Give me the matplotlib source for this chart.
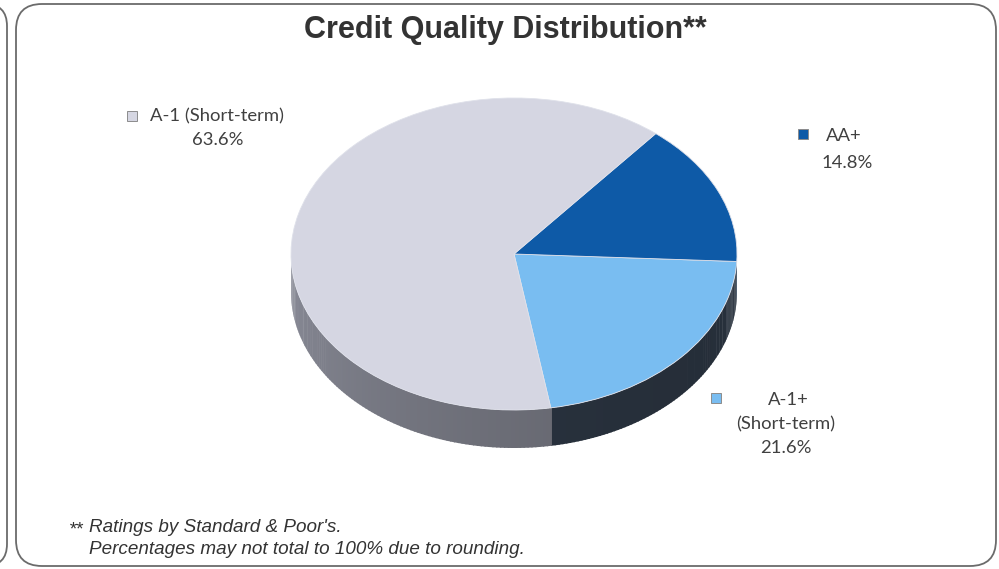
import numpy as np
import matplotlib
matplotlib.use("Agg")
import matplotlib.pyplot as plt
from matplotlib.patches import FancyBboxPatch, Rectangle
from matplotlib.colors import to_rgb

# Credit quality shares (%), in drawing order counter-clockwise from the start angle
categories = ["A-1+ (Short-term)", "AA+", "A-1 (Short-term)"]
shares = [21.6, 14.8, 63.6]
top_colors = ["#79bdf1", "#0e5aa7", "#d5d6e2"]
wall_colors = ["#34404f", "#0b3c70", "#8a8c98"]

title = "Credit Quality Distribution**"
footnote_1 = "Ratings by Standard & Poor's."
footnote_2 = "Percentages may not total to 100% due to rounding."

W, H = 999, 569
fig = plt.figure(figsize=(W / 100, H / 100), dpi=100)
fig.patch.set_facecolor("white")

# Background axes in pixel units for frames and text
bg = fig.add_axes([0, 0, 1, 1], zorder=0)
bg.set_xlim(0, W)
bg.set_ylim(H, 0)
bg.axis("off")

bg.add_patch(FancyBboxPatch((16, 4), 980, 562,
                            boxstyle="round,pad=0,rounding_size=26",
                            fc="none", ec="#6b6b6b", lw=1.3))
bg.add_patch(FancyBboxPatch((-300, 4), 307, 562,
                            boxstyle="round,pad=0,rounding_size=22",
                            fc="none", ec="#6b6b6b", lw=1.3))

bg.text(505, 30, title, ha="center", va="center", fontsize=22,
        fontweight="bold", family="Liberation Sans", color="#333333")

foot = dict(fontsize=13.6, style="italic", family="Liberation Sans", color="#333333")
bg.text(69, 530, "**", ha="left", va="center", **foot)
bg.text(89, 527, footnote_1, ha="left", va="center", **foot)
bg.text(89, 550, footnote_2, ha="left", va="center", **foot)

# Pie axes: one data unit is 223 px across and 155 px tall, giving the tilt
cx, cy, rx, ry = 514, 254, 223, 156
x0, x1, y0, y1 = -1.25, 1.25, -1.6, 1.25
left = cx + x0 * rx
bottom = (H - cy) + y0 * ry
ax = fig.add_axes([left / W, bottom / H, (x1 - x0) * rx / W, (y1 - y0) * ry / H], zorder=1)

start = -80.5
depth = 38 / ry

wedges, _ = ax.pie(shares, colors=top_colors, startangle=start, counterclock=True,
                   radius=1.0, wedgeprops=dict(linewidth=0.6, edgecolor="#dfe1ea"))
for w in wedges:
    w.set_zorder(3)
ax.set_aspect("auto")
ax.set_xlim(x0, x1)
ax.set_ylim(y0, y1)
ax.axis("off")


def shade(t):
    # lighter on the left flank, darkest toward the front-right
    return 1.0 - 0.28 * np.sin(np.clip((t - 180.0) / 150.0, 0, 1) * np.pi / 2) \
        + 0.08 * np.clip((t - 330.0) / 30.0, 0, 1)


# Visible front wall: slices' arcs falling in 180..360 degrees
bounds = start + 360.0 * np.concatenate([[0], np.cumsum(shares)]) / 100.0
for i in range(len(shares)):
    a0, a1 = bounds[i], bounds[i + 1]
    for lo, hi in [(a0, a1), (a0 + 360, a1 + 360), (a0 - 360, a1 - 360)]:
        s, e = max(lo, 180.0), min(hi, 360.0)
        if e <= s:
            continue
        edges = np.linspace(s, e, max(2, int((e - s) / 1.0) + 1))
        base = np.array(to_rgb(wall_colors[i]))
        for ta, tb in zip(edges[:-1], edges[1:]):
            tt = np.linspace(ta, tb + 0.3, 4)
            xs = np.cos(np.radians(tt))
            ys = np.sin(np.radians(tt))
            px = np.concatenate([xs, xs[::-1]])
            py = np.concatenate([ys, ys[::-1] - depth])
            c = np.clip(base * shade((ta + tb) / 2), 0, 1)
            ax.fill(px, py, color=c, lw=0, zorder=2)

# Data labels with small colour keys
label_font = dict(family="Lato", fontsize=13.3, color="#404040")
key_pos = [(716, 398), (803, 134), (132, 116)]
for i in range(len(shares)):
    kx, ky = key_pos[i]
    bg.add_patch(Rectangle((kx - 5, ky - 5), 10, 10, fc=top_colors[i],
                           ec="#8c8c8c", lw=0.7, zorder=4))

bg.text(788, 400, "A-1+", ha="center", va="center", **label_font)
bg.text(786, 424, "(Short-term)", ha="center", va="center", **label_font)
bg.text(786, 448, f"{shares[0]:.1f}%", ha="center", va="center", **label_font)

bg.text(844, 136, "AA+", ha="center", va="center", **label_font)
bg.text(847, 163, f"{shares[1]:.1f}%", ha="center", va="center", **label_font)

bg.text(150, 116, "A-1 (Short-term)", ha="left", va="center", **label_font)
bg.text(218, 140, f"{shares[2]:.1f}%", ha="center", va="center", **label_font)

fig.savefig("out.png", dpi=100, facecolor="white")
